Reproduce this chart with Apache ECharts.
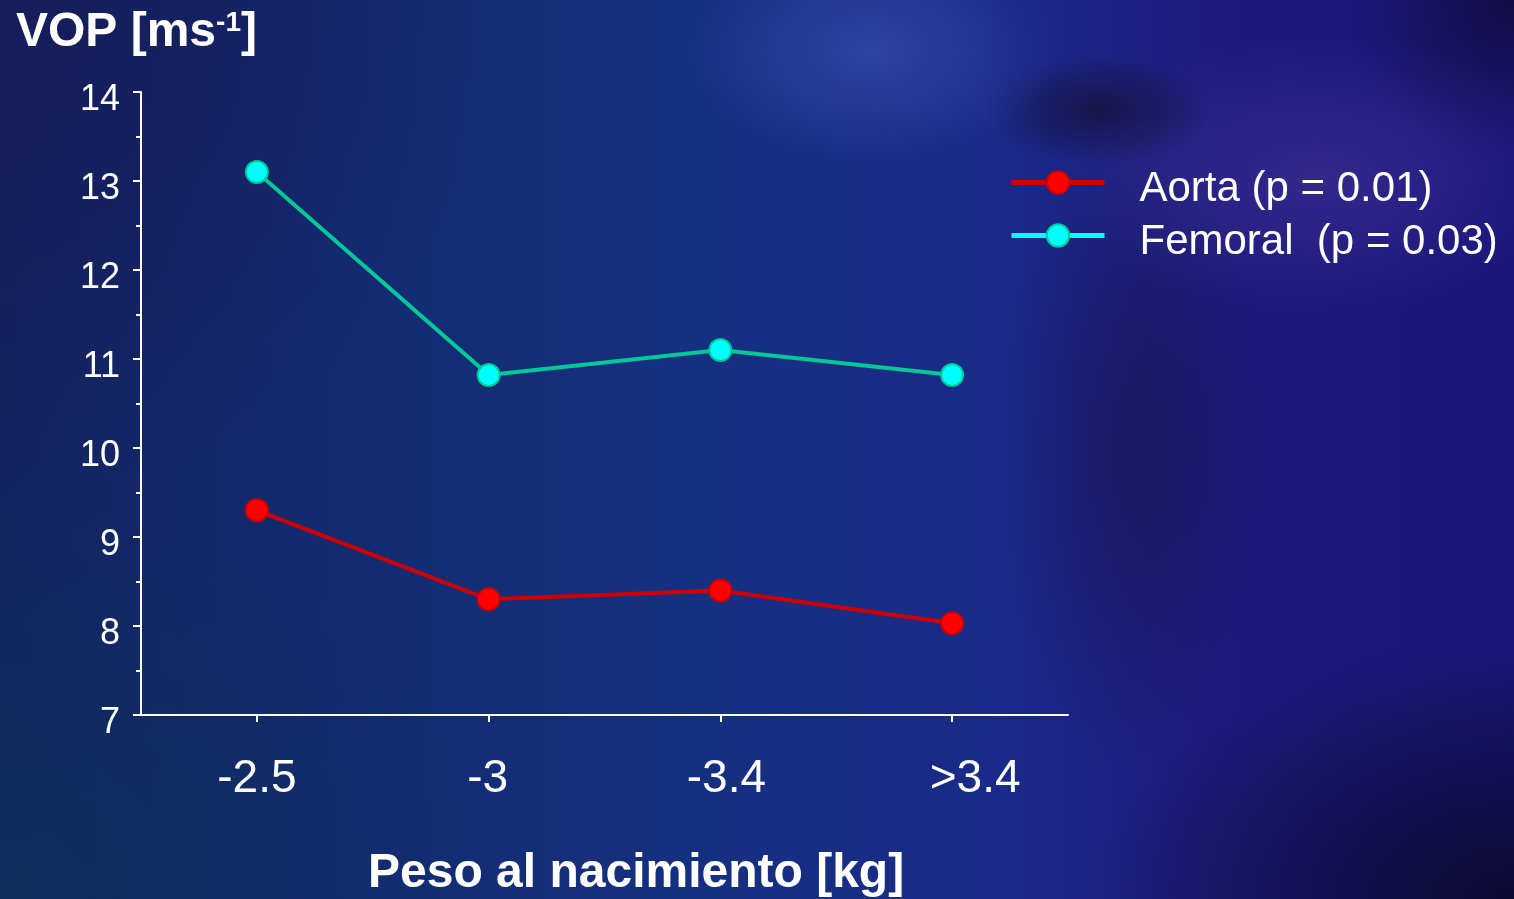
<!DOCTYPE html>
<html>
<head>
<meta charset="utf-8">
<script src="https://cdn.jsdelivr.net/npm/echarts@6/dist/echarts.min.js"></script>
<style>
  html, body { margin: 0; padding: 0; width: 1514px; height: 899px; overflow: hidden; background: #141f5c; }
  #chart {
    width: 1514px; height: 899px;
    background:
      radial-gradient(ellipse 190px 120px at 870px 50px, rgba(70, 90, 190, 0.5), rgba(70, 90, 190, 0) 100%),
      radial-gradient(ellipse 115px 55px at 1100px 110px, rgba(22, 18, 62, 0.85), rgba(22, 18, 62, 0) 100%),
      radial-gradient(ellipse 260px 140px at 1320px 175px, rgba(72, 52, 150, 0.55), rgba(72, 52, 150, 0) 100%),
      radial-gradient(ellipse 170px 160px at 1514px 0px, rgba(18, 12, 60, 0.85), rgba(18, 12, 60, 0) 100%),
      radial-gradient(ellipse 420px 260px at 1514px 899px, rgba(10, 8, 40, 0.9), rgba(10, 8, 40, 0) 100%),
      radial-gradient(ellipse 140px 320px at 1140px 450px, rgba(24, 20, 80, 0.6), rgba(24, 20, 80, 0) 100%),
      radial-gradient(ellipse 500px 500px at 0px 0px, rgba(22, 26, 88, 0.8), rgba(22, 26, 88, 0) 100%),
      radial-gradient(ellipse 500px 400px at 0px 899px, rgba(14, 48, 92, 0.8), rgba(14, 48, 92, 0) 100%),
      linear-gradient(to right, #122560 0%, #153080 45%, #1a2a88 65%, #1d1a7e 82%, #1a167a 100%);
  }
</style>
</head>
<body>
<div id="chart"></div>
<script>
// Pulse-wave velocity by birth-weight group
const categories = ['-2.5', '-3', '-3.4', '>3.4'];
const aortaValues = [9.3, 8.3, 8.4, 8.03];
const femoralValues = [13.1, 10.82, 11.1, 10.82];
const seriesNames = ['Aorta (p = 0.01)', 'Femoral  (p = 0.03)'];
const yMin = 7, yMax = 14, yStep = 1;
const xTitle = 'Peso al nacimiento [kg]';

const FONT = '"Liberation Sans", Arial, Helvetica, sans-serif';
const WHITE = '#ffffff';
// horizontal nudge of the category labels (left padding, px)
const labelNudge = [0, -2, 12, 46];

const chart = echarts.init(document.getElementById('chart'), null, { renderer: 'canvas' });

const option = {
  backgroundColor: 'transparent',
  animation: false,
  grid: { left: 141, right: 446, top: 92, bottom: 184, containLabel: false },
  legend: {
    orient: 'vertical',
    left: 1009,
    top: 155,
    padding: 0,
    itemWidth: 93,
    itemHeight: 28,
    itemGap: -2,
    formatter: '{t|{name}}',
    textStyle: {
      color: WHITE,
      rich: {
        t: { color: WHITE, fontSize: 42, fontFamily: FONT, lineHeight: 30, padding: [13, 0, 0, 30] }
      }
    },
    lineStyle: { width: 5 },
    data: [
      { name: seriesNames[0] },
      { name: seriesNames[1], lineStyle: { color: '#00FFFF', width: 5 } }
    ]
  },
  xAxis: {
    type: 'category',
    boundaryGap: true,
    data: categories.map((c, i) => ({ value: c, textStyle: { padding: [0, 0, 0, labelNudge[i]] } })),
    axisLine: { show: true, lineStyle: { color: WHITE, width: 2 } },
    axisTick: { show: true, alignWithLabel: true, length: 7, lineStyle: { color: WHITE, width: 2 } },
    axisLabel: { color: WHITE, fontSize: 46, fontFamily: FONT, margin: 41 },
    splitLine: { show: false }
  },
  yAxis: {
    type: 'value',
    min: yMin, max: yMax, interval: yStep,
    axisLine: { show: true, lineStyle: { color: WHITE, width: 2 } },
    axisTick: { show: true, length: 8, lineStyle: { color: WHITE, width: 2 } },
    minorTick: { show: true, splitNumber: 2, length: 5, lineStyle: { color: WHITE, width: 2 } },
    axisLabel: {
      margin: 21,
      formatter: '{v|{value}}',
      rich: {
        v: { color: WHITE, fontSize: 36, fontFamily: FONT, lineHeight: 36, padding: [16, 0, 0, 0] }
      }
    },
    splitLine: { show: false }
  },
  graphic: [
    {
      type: 'text',
      left: 16,
      top: 9,
      style: {
        text: '{a|VOP [ms}{b|-1}{a|]}',
        rich: {
          a: { fill: WHITE, fontSize: 48, fontWeight: 'bold', fontFamily: FONT },
          b: { fill: WHITE, fontSize: 28, fontWeight: 'bold', fontFamily: FONT, verticalAlign: 'top', padding: [0, 0, 18, 0] }
        }
      }
    },
    {
      type: 'text',
      left: 368,
      top: 850,
      style: { text: xTitle, fill: WHITE, fontSize: 48, fontWeight: 'bold', fontFamily: FONT }
    }
  ],
  series: [
    {
      name: seriesNames[0],
      type: 'line',
      data: aortaValues,
      symbol: 'circle',
      symbolSize: 22,
      lineStyle: { color: '#D00000', width: 4 },
      itemStyle: { color: '#FF0000', borderColor: '#D00000', borderWidth: 2 },
      z: 3
    },
    {
      name: seriesNames[1],
      type: 'line',
      data: femoralValues,
      symbol: 'circle',
      symbolSize: 22,
      lineStyle: { color: '#00C896', width: 4 },
      itemStyle: { color: '#00FFFF', borderColor: '#00C896', borderWidth: 2 },
      z: 3
    }
  ]
};

chart.setOption(option);
</script>
</body>
</html>
